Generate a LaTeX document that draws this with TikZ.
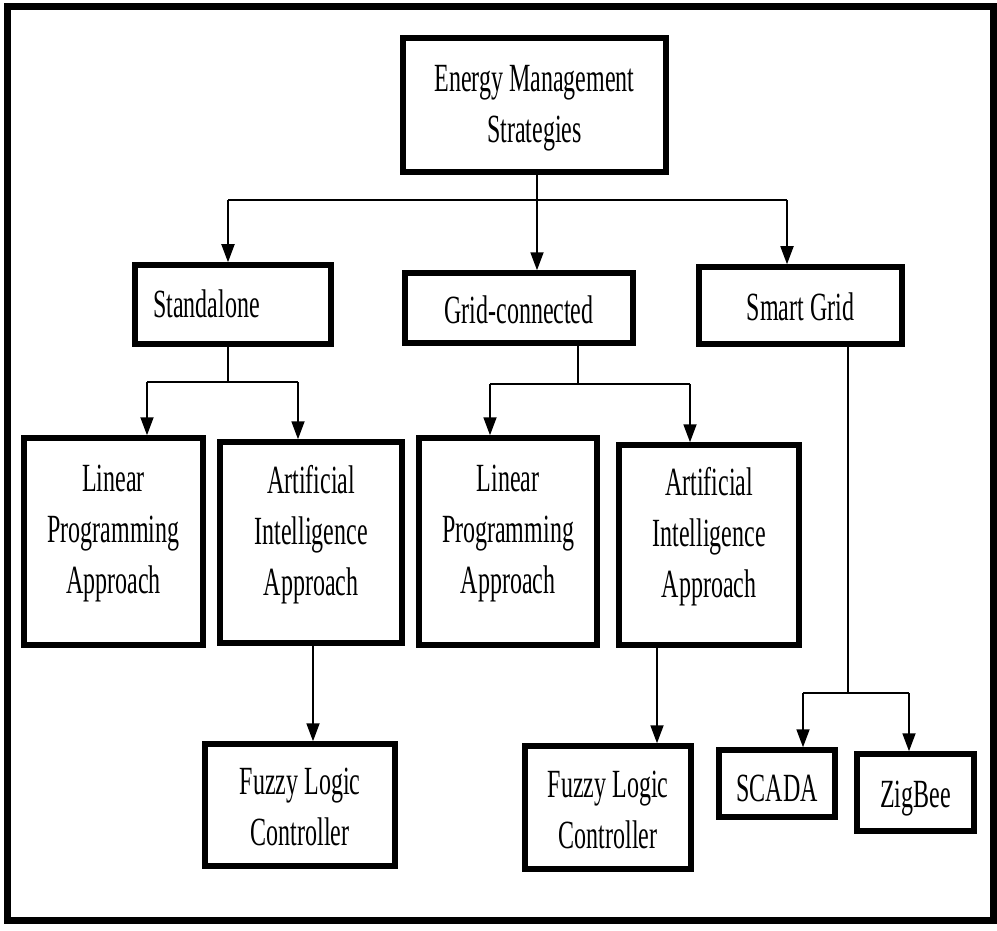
\documentclass[tikz,border=0pt]{standalone}
\usepackage{fontspec}
\setmainfont{Liberation Serif}
\usepackage{graphicx}
\usetikzlibrary{arrows.meta}
\newcommand{\sq}[1]{\scalebox{0.6}[1]{#1}}
\begin{document}
\begin{tikzpicture}[x=1pt,y=-1pt,
  box/.style={draw=black,line width=5.5pt,inner sep=0pt,fill=white},
  lbl/.style={font=\fontsize{40}{51}\selectfont,align=center,inner sep=0pt,text=black},
  conn/.style={draw=black,line width=1.8pt},
  arr/.style={conn,-{Triangle[length=18pt,width=13pt]}}]
\useasboundingbox (0,0) rectangle (997,931);
\fill[white] (0,0) rectangle (997,931);
\draw[line width=7pt] (7,7) rectangle (993.5,920);

% boxes
\node[box,minimum width=263pt,minimum height=134pt] (ems) at (534.5,105) {};
\node[box,minimum width=196pt,minimum height=79pt] (sa) at (233,304.5) {};
\node[box,minimum width=228pt,minimum height=70pt] (gc) at (519,308) {};
\node[box,minimum width=203pt,minimum height=77pt] (sg) at (800.5,305.5) {};
\node[box,minimum width=179pt,minimum height=207pt] (lp1) at (113.5,541.5) {};
\node[box,minimum width=182pt,minimum height=201pt] (ai1) at (311,542.5) {};
\node[box,minimum width=178pt,minimum height=207pt] (lp2) at (508,541.5) {};
\node[box,minimum width=180pt,minimum height=200pt] (ai2) at (709,545) {};
\node[box,minimum width=190pt,minimum height=122pt] (fz1) at (300,805) {};
\node[box,minimum width=166pt,minimum height=123pt] (fz2) at (608,807.5) {};
\node[box,minimum width=116pt,minimum height=67pt] (sc) at (777,783.5) {};
\node[box,minimum width=117pt,minimum height=77pt] (zb) at (915.5,792.5) {};

% labels
\node[lbl] (emst) at ([yshift=-3.6pt]ems.center) {\sq{Energy Management}\\\sq{Strategies}};
\node[lbl] (sat) at ([xshift=-26.5pt,yshift=1pt]sa.center) {\sq{Standalone}};
\node[lbl] (gct) at ([yshift=-1.5pt]gc.center) {\sq{Grid-connected}};
\node[lbl] (sgt) at ([yshift=-1pt]sg.center) {\sq{Smart Grid}};
\node[lbl] (lp1t) at ([yshift=7.6pt]lp1.center) {\sq{Linear}\\\sq{Programming}\\\sq{Approach}};
\node[lbl] (ai1t) at ([yshift=8pt]ai1.center) {\sq{Artificial}\\\sq{Intelligence}\\\sq{Approach}};
\node[lbl] (lp2t) at ([yshift=7.6pt]lp2.center) {\sq{Linear}\\\sq{Programming}\\\sq{Approach}};
\node[lbl] (ai2t) at ([yshift=8.4pt]ai2.center) {\sq{Artificial}\\\sq{Intelligence}\\\sq{Approach}};
\node[lbl] (fz1t) at ([yshift=-2pt]fz1.center) {\sq{Fuzzy Logic}\\\sq{Controller}};
\node[lbl] (fz2t) at ([yshift=-2.5pt]fz2.center) {\sq{Fuzzy Logic}\\\sq{Controller}};
\node[lbl] (sct) at ([yshift=-5pt]sc.center) {\sq{SCADA}};
\node[lbl] (zbt) at ([yshift=-6pt]zb.center) {\sq{ZigBee}};

% junction coordinates
\coordinate (b1L) at (228,200);
\coordinate (b1R) at (787,200);
\coordinate (s1) at (537,0);
\coordinate (b2L) at (147,382);
\coordinate (b2R) at (298,382);
\coordinate (s2) at (228,382);
\coordinate (b3L) at (490,384);
\coordinate (b3R) at (690,384);
\coordinate (s3) at (578,384);
\coordinate (s4) at (313,0);
\coordinate (s5) at (657,0);
\coordinate (b4L) at (803,693);
\coordinate (b4R) at (909,693);
\coordinate (s6) at (848,693);

% level 1
\draw[arr] (ems.south -| s1) -- (gc.north -| s1);
\draw[conn] (b1L) -- (b1R);
\draw[arr] (b1L) -- (sa.north -| b1L);
\draw[arr] (b1R) -- (sg.north -| b1R);

% standalone
\draw[conn] (sa.south -| s2) -- (s2);
\draw[conn] (b2L) -- (b2R);
\draw[arr] (b2L) -- (lp1.north -| b2L);
\draw[arr] (b2R) -- (ai1.north -| b2R);
\draw[arr] (ai1.south -| s4) -- (fz1.north -| s4);

% grid-connected
\draw[conn] (gc.south -| s3) -- (s3);
\draw[conn] (b3L) -- (b3R);
\draw[arr] (b3L) -- (lp2.north -| b3L);
\draw[arr] (b3R) -- (ai2.north -| b3R);
\draw[arr] (ai2.south -| s5) -- (fz2.north -| s5);

% smart grid
\draw[conn] (sg.south -| s6) -- (s6);
\draw[conn] (b4L) -- (b4R);
\draw[arr] (b4L) -- (sc.north -| b4L);
\draw[arr] (b4R) -- (zb.north -| b4R);
\end{tikzpicture}
\end{document}
